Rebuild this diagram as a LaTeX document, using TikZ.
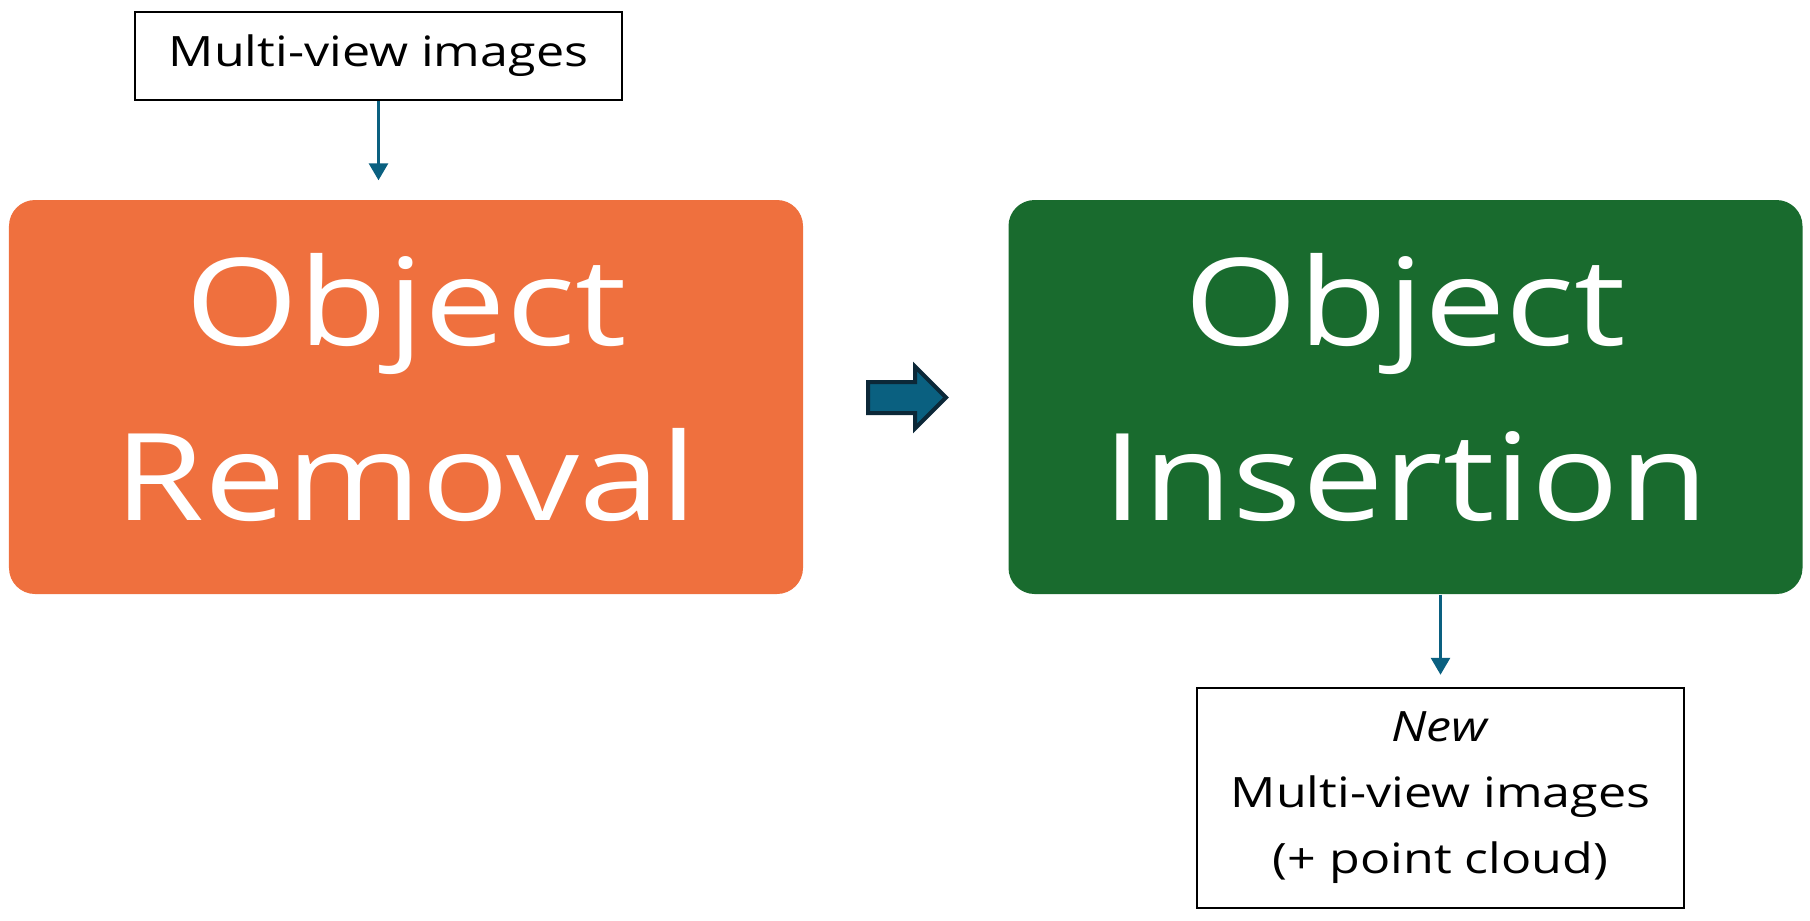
\documentclass[tikz,border=0pt]{standalone}
\usepackage{fontspec}
\setmainfont{Open Sans}[FakeStretch=1.2]
\usetikzlibrary{arrows.meta}
\definecolor{remorange}{RGB}{239,112,62}
\definecolor{insgreen}{RGB}{25,107,46}
\definecolor{flowblue}{RGB}{10,96,128}
\definecolor{flowdark}{RGB}{12,40,56}
\tikzset{
	textbox/.style  = {shape=rectangle, draw, line width=0.25mm,
		align=center, minimum width=48.7mm,
		font=\fontsize{11.9}{18.8}\selectfont},
	stagebox/.style = {shape=rectangle, rounded corners=2.6mm,
		minimum width=79.4mm, minimum height=39.4mm,
		align=center, text=white, text depth=2mm,
		font=\fontsize{34.5}{50}\selectfont},
	flow/.style     = {draw=flowblue, line width=0.3mm,
		-{Triangle[width=1.9mm,length=1.7mm]}},
	blockarrow/.style = {draw=flowdark, fill=flowblue, line width=0.4mm, line join=miter}
}
\begin{document}
\begin{tikzpicture}
	\useasboundingbox (0,0) rectangle (18.1,9.2);
	% input and the two stages
	\node [textbox, minimum height=8.8mm] (inp) at (3.785,8.64) {Multi-view images};
	\node [stagebox, fill=remorange] (rem) at (4.06,5.23) {Object\\Removal};
	\node [stagebox, fill=insgreen] (ins) at (14.055,5.23) {Object\\Insertion};
	\node [textbox, minimum height=22mm] (out) at (14.405,1.22)
		{\textit{New}\\Multi-view images\\(+ point cloud)};
	% block arrow between the stages
	\coordinate (step) at (9.07,5.225);
	\draw [blockarrow] (step) ++(-0.39,0.155) -- ++(0.47,0) -- ++(0,0.155)
		-- ++(0.31,-0.31) -- ++(-0.31,-0.31) -- ++(0,0.155) -- ++(-0.47,0) -- cycle;
	% connectors
	\draw [flow, shorten >=1.9mm] (inp.south) -- (inp.south |- rem.north);
	\draw [flow, shorten >=1.2mm] (ins.south -| out.north) -- (out.north);
\end{tikzpicture}
\end{document}
